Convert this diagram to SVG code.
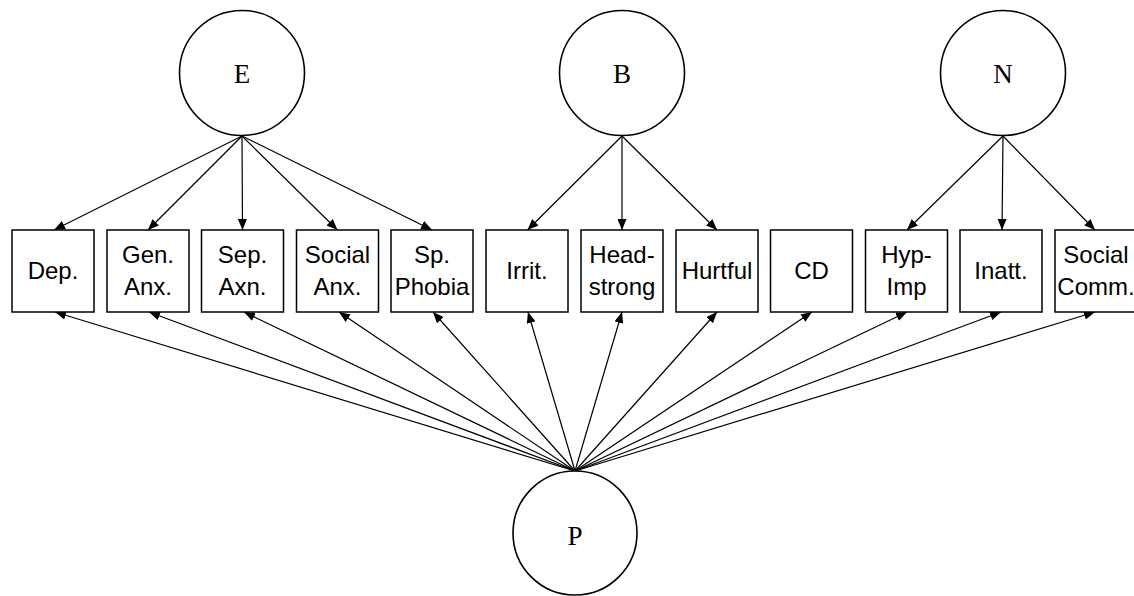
<svg xmlns="http://www.w3.org/2000/svg" width="1134" height="596" viewBox="0 0 1134 596">
<style>
.c{fill:#fff;stroke:#000;stroke-width:1.6}
.b{fill:#fff;stroke:#000;stroke-width:1.5}
.t{font-family:"Liberation Sans",Arial,sans-serif;font-size:24px;fill:#000;text-anchor:middle}
.s{font-family:"Liberation Serif","Times New Roman",serif;font-size:27px;fill:#000;text-anchor:middle}
.a{stroke:#000;stroke-width:1.2;fill:none;marker-end:url(#ah)}
</style>
<defs>
<marker id="ah" markerUnits="userSpaceOnUse" markerWidth="11" markerHeight="9" refX="11" refY="4.5" orient="auto">
<path d="M0,0 L11,4.5 L0,9 z" fill="#000"/>
</marker>
</defs>
<rect width="1134" height="596" fill="#fff"/>
<g id="connectors">
<line class="a" x1="242" y1="136" x2="54" y2="230"/>
<line class="a" x1="242" y1="136" x2="148" y2="230"/>
<line class="a" x1="242" y1="136" x2="242.5" y2="230"/>
<line class="a" x1="242" y1="136" x2="337.5" y2="230"/>
<line class="a" x1="242" y1="136" x2="432" y2="230"/>
<line class="a" x1="622" y1="136" x2="527.5" y2="230"/>
<line class="a" x1="622" y1="136" x2="622" y2="230"/>
<line class="a" x1="622" y1="136" x2="717" y2="230"/>
<line class="a" x1="1003" y1="136" x2="907" y2="230"/>
<line class="a" x1="1003" y1="136" x2="1002" y2="230"/>
<line class="a" x1="1003" y1="136" x2="1095" y2="230"/>
<line class="a" x1="575" y1="471" x2="55" y2="312"/>
<line class="a" x1="575" y1="471" x2="149" y2="312"/>
<line class="a" x1="575" y1="471" x2="244" y2="312"/>
<line class="a" x1="575" y1="471" x2="339" y2="312"/>
<line class="a" x1="575" y1="471" x2="433" y2="312"/>
<line class="a" x1="575" y1="471" x2="528" y2="312"/>
<line class="a" x1="575" y1="471" x2="622" y2="312"/>
<line class="a" x1="575" y1="471" x2="717" y2="312"/>
<line class="a" x1="575" y1="471" x2="812" y2="312"/>
<line class="a" x1="575" y1="471" x2="907" y2="312"/>
<line class="a" x1="575" y1="471" x2="1001" y2="312"/>
<line class="a" x1="575" y1="471" x2="1095" y2="312"/>
</g>
<g id="E"><circle class="c" cx="242" cy="73" r="62.5"/><text class="s" x="242" y="83">E</text></g>
<g id="B"><circle class="c" cx="622" cy="73" r="62.5"/><text class="s" x="622" y="83">B</text></g>
<g id="N"><circle class="c" cx="1003" cy="73" r="62.5"/><text class="s" x="1003" y="83">N</text></g>
<g id="P"><circle class="c" cx="575" cy="533" r="62"/><text class="s" x="575" y="545">P</text></g>
<g id="dep"><rect class="b" x="12" y="230" width="82" height="82"/><text class="t" x="53" y="279">Dep.</text></g>
<g id="genanx"><rect class="b" x="107" y="230" width="82" height="82"/><text class="t" x="148" y="263">Gen.</text><text class="t" x="148" y="295">Anx.</text></g>
<g id="sepaxn"><rect class="b" x="201.5" y="230" width="82" height="82"/><text class="t" x="242.5" y="263">Sep.</text><text class="t" x="242.5" y="295">Axn.</text></g>
<g id="socialanx"><rect class="b" x="296.5" y="230" width="82" height="82"/><text class="t" x="337.5" y="263">Social</text><text class="t" x="337.5" y="295">Anx.</text></g>
<g id="spphobia"><rect class="b" x="391" y="230" width="82" height="82"/><text class="t" x="432" y="263">Sp.</text><text class="t" x="432" y="295">Phobia</text></g>
<g id="irrit"><rect class="b" x="486" y="230" width="82" height="82"/><text class="t" x="527" y="279">Irrit.</text></g>
<g id="headstrong"><rect class="b" x="581" y="230" width="82" height="82"/><text class="t" x="622" y="263">Head-</text><text class="t" x="622" y="295">strong</text></g>
<g id="hurtful"><rect class="b" x="676" y="230" width="82" height="82"/><text class="t" x="717" y="279">Hurtful</text></g>
<g id="cd"><rect class="b" x="770.5" y="230" width="82" height="82"/><text class="t" x="811.5" y="279">CD</text></g>
<g id="hypimp"><rect class="b" x="865.5" y="230" width="82" height="82"/><text class="t" x="906.5" y="263">Hyp-</text><text class="t" x="906.5" y="295">Imp</text></g>
<g id="inatt"><rect class="b" x="960" y="230" width="82" height="82"/><text class="t" x="1001" y="279">Inatt.</text></g>
<g id="socialcomm"><rect class="b" x="1055" y="230" width="82" height="82"/><text class="t" x="1096" y="263">Social</text><text class="t" x="1096" y="295">Comm.</text></g>
</svg>
